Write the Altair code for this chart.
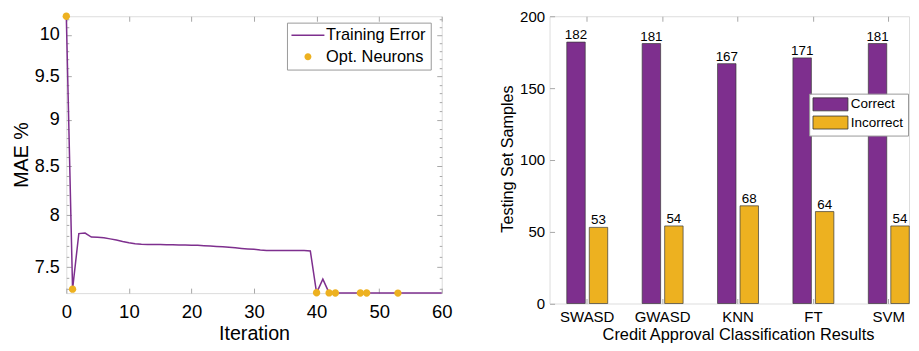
import altair as alt
import pandas as pd

# ---------------- data ----------------
iterations = list(range(61))
mae = [10.235, 7.298, 7.818, 7.823, 7.785, 7.783, 7.777, 7.767, 7.757, 7.742,
       7.729, 7.721, 7.716, 7.714, 7.713, 7.712, 7.711, 7.710, 7.709, 7.708,
       7.707, 7.705, 7.702, 7.698, 7.694, 7.691, 7.686, 7.681, 7.676, 7.671,
       7.667, 7.660, 7.656, 7.656, 7.656, 7.655, 7.655, 7.655, 7.655, 7.651,
       7.265, 7.389, 7.264, 7.2635, 7.2636, 7.2636, 7.2635, 7.263, 7.2626, 7.2626,
       7.2626, 7.2626, 7.2626, 7.2622, 7.2622, 7.2622, 7.2622, 7.2622, 7.2622, 7.2622, 7.2622]
opt_iterations = [0, 1, 40, 42, 43, 47, 48, 53]
series_names = ["Training Error", "Opt. Neurons"]

x_major = [0, 10, 20, 30, 40, 50, 60]
y_major = [7.5, 8, 8.5, 9, 9.5, 10]
y_minor = [7.3, 7.4, 7.6, 7.7, 7.8, 7.9, 8.1, 8.2, 8.3, 8.4, 8.6, 8.7, 8.8, 8.9,
           9.1, 9.2, 9.3, 9.4, 9.6, 9.7, 9.8, 9.9, 10.1, 10.2]

methods = ["SWASD", "GWASD", "KNN", "FT", "SVM"]
results = ["Correct", "Incorrect"]
correct = [182, 181, 167, 171, 181]
incorrect = [53, 54, 68, 64, 54]
y_bar_ticks = [0, 50, 100, 150, 200]

# ---------------- style ----------------
FONT = "Liberation Sans"
TXT = "#262626"
BOX = "#a8a8a8"
PURPLE = "#7E2F8E"
YELLOW = "#EDB120"
W1, H1 = 376, 277.3
W2, H2 = 360, 287.7
X2_RANGE = [17.25, 360.25]   # band range inside the (cut-off) right panel
# legend symbol paths (unit = sqrt(symbolSize)/2)
LINE_PATH = "M-2.357,0H2.357"
DOT_PATH = "M-0.5,0A0.5,0.5 0 1,0 0.5,0A0.5,0.5 0 1,0 -0.5,0Z"
RECT_PATH = "M-2.917,-1.083H2.917V1.083H-2.917Z"

line_df = pd.DataFrame({"iteration": iterations, "mae": mae,
                        "series": [series_names[0]] * len(iterations)})
opt_df = pd.DataFrame({
    "iteration": opt_iterations,
    "mae": [mae[i] for i in opt_iterations],
    "series": [series_names[1]] * len(opt_iterations),
})

xs = alt.Scale(domain=[0, 60], nice=False, zero=False)
ys = alt.Scale(type="log", domain=[7.262, 10.235], nice=False)

def tick_axis(orient, offset, values, size):
    kw = dict(orient=orient, offset=offset, labels=False, ticks=True, tickSize=size,
              domain=False, grid=False, title=None, tickColor=BOX, minExtent=0, maxExtent=0)
    if values is not None:
        kw["values"] = values
    return alt.Axis(**kw)

def legend_left():
    return alt.Legend(
        orient="none", legendX=221, legendY=6.4, title=None, direction="vertical",
        symbolSize=196, symbolStrokeWidth=1.5, symbolOpacity=1, symbolOffset=8.3,
        labelFontSize=16.4, labelFont=FONT, labelColor="#000000", labelOffset=10,
        padding=4.5, rowPadding=4.4, strokeColor="#9a9a9a", fillColor="white",
    )

line = alt.Chart(line_df).mark_line(strokeWidth=1.5).encode(
    x=alt.X("iteration:Q", scale=xs, axis=alt.Axis(
        values=x_major, ticks=False, domain=False, grid=False, labelFontSize=18.5,
        labelPadding=9, labelFlush=False, title="Iteration", titleFontSize=19.7,
        titleFontWeight="normal", titleY=46.5, titleBaseline="alphabetic")),
    y=alt.Y("mae:Q", scale=ys, axis=alt.Axis(
        values=y_major, ticks=False, domain=False, grid=False, labelFontSize=18,
        labelPadding=7, labelExpr="format(datum.value, '~g')", title="MAE %",
        titleFontSize=19.7, titleFontWeight="normal", titleX=-39, titleY=138.5,
        titleBaseline="alphabetic", titleAngle=-90)),
    stroke=alt.Stroke("series:N", scale=alt.Scale(domain=series_names, range=[PURPLE, "transparent"]),
                      legend=legend_left()),
)

pts = alt.Chart(opt_df).mark_point(filled=True, size=219, opacity=1, strokeWidth=0).encode(
    x=alt.X("iteration:Q", scale=xs, axis=tick_axis("top", -H1, x_major, 5)),
    y=alt.Y("mae:Q", scale=ys, axis=tick_axis("right", -W1, y_major, 5)),
    fill=alt.Fill("series:N", scale=alt.Scale(domain=series_names, range=["transparent", YELLOW]),
                  legend=legend_left()),
    shape=alt.Shape("series:N", scale=alt.Scale(domain=series_names, range=[LINE_PATH, DOT_PATH]),
                    legend=legend_left()),
)

edge1 = alt.Chart(opt_df).mark_circle(opacity=0).encode(
    x=alt.X("iteration:Q", scale=xs, axis=tick_axis("bottom", -H1, x_major, 5)),
    y=alt.Y("mae:Q", scale=ys, axis=tick_axis("left", -W1, y_major, 5)),
)
minor1 = alt.Chart(opt_df).mark_circle(opacity=0).encode(
    x=alt.X("iteration:Q", scale=xs, axis=None),
    y=alt.Y("mae:Q", scale=ys, axis=tick_axis("right", -W1, y_minor, 2.5)),
)
minor2 = alt.Chart(opt_df).mark_circle(opacity=0).encode(
    x=alt.X("iteration:Q", scale=xs, axis=None),
    y=alt.Y("mae:Q", scale=ys, axis=tick_axis("left", -W1, y_minor, 2.5)),
)

left = alt.layer(line, pts, edge1, minor1, minor2).resolve_axis(
    x="independent", y="independent").properties(width=W1, height=H1)

# ---------------- right: bar chart ----------------
bar_df = pd.DataFrame({
    "method": methods * 2,
    "result": [results[0]] * len(methods) + [results[1]] * len(methods),
    "count": correct + incorrect,
})

xb = alt.Scale(domain=methods, range=X2_RANGE, paddingInner=0.457, paddingOuter=0)
xo = alt.Scale(domain=results, paddingInner=0.18, paddingOuter=0)
yb = alt.Scale(domain=[0, 200], nice=False)

legend_right = alt.Legend(
    orient="none", legendX=744, legendY=77.5, title=None, direction="vertical",
    symbolType=RECT_PATH, symbolSize=144, symbolStrokeColor="#333333",
    symbolStrokeWidth=0.8, symbolOpacity=1, symbolOffset=10.6,
    labelFontSize=13.5, labelFont=FONT, labelColor="#000000", labelOffset=13.5,
    padding=4, rowPadding=1.2, strokeColor="#9a9a9a", fillColor="white",
)

bars = alt.Chart(bar_df).mark_bar(stroke="#3a3a3a", strokeWidth=0.7, opacity=1).encode(
    x=alt.X("method:N", sort=methods, scale=xb, axis=alt.Axis(
        labelAngle=0, ticks=False, domain=False, grid=False, labelFontSize=15,
        labelPadding=6.5, title="Credit Approval Classification Results",
        titleFontSize=16.4, titleFontWeight="normal", titleY=36.5, titleBaseline="alphabetic")),
    xOffset=alt.XOffset("result:N", sort=results, scale=xo),
    y=alt.Y("count:Q", scale=yb, axis=alt.Axis(
        values=y_bar_ticks, ticks=False, domain=False, grid=False, labelFontSize=15,
        labelPadding=5, title="Testing Set Samples", titleFontSize=16.2,
        titleFontWeight="normal", titleX=-37.6, titleY=142.5,
        titleBaseline="alphabetic", titleAngle=-90)),
    color=alt.Color("result:N", scale=alt.Scale(domain=results, range=[PURPLE, YELLOW]),
                    legend=legend_right),
)

values_txt = alt.Chart(bar_df).mark_text(
    baseline="alphabetic", dy=-3, fontSize=13.4, font=FONT, color="#000000").encode(
    x=alt.X("method:N", sort=methods, scale=xb, axis=tick_axis("top", -H2, None, 5)),
    xOffset=alt.XOffset("result:N", sort=results, scale=xo),
    y=alt.Y("count:Q", scale=yb, axis=tick_axis("right", -W2, y_bar_ticks, 5)),
    text="count:Q",
)

edge2 = alt.Chart(bar_df).mark_point(opacity=0).encode(
    x=alt.X("method:N", sort=methods, scale=xb, axis=tick_axis("bottom", -H2, None, 5)),
    xOffset=alt.XOffset("result:N", sort=results, scale=xo),
    y=alt.Y("count:Q", scale=yb, axis=None),
)

right = alt.layer(bars, values_txt, edge2).resolve_axis(
    x="independent", y="independent").properties(width=W2, height=H2)

chart = alt.hconcat(left, right, spacing=108, bounds="flush").properties(
    padding={"left": 2.4, "top": 0, "right": 0, "bottom": 0}
).configure_view(stroke=BOX, strokeWidth=1).configure_axis(
    labelFont=FONT, titleFont=FONT, labelColor=TXT, titleColor=TXT,
    titleFontWeight="normal", grid=False
).configure(background="white")

chart.save("out.html", embed_options={"renderer": "svg", "actions": False})
